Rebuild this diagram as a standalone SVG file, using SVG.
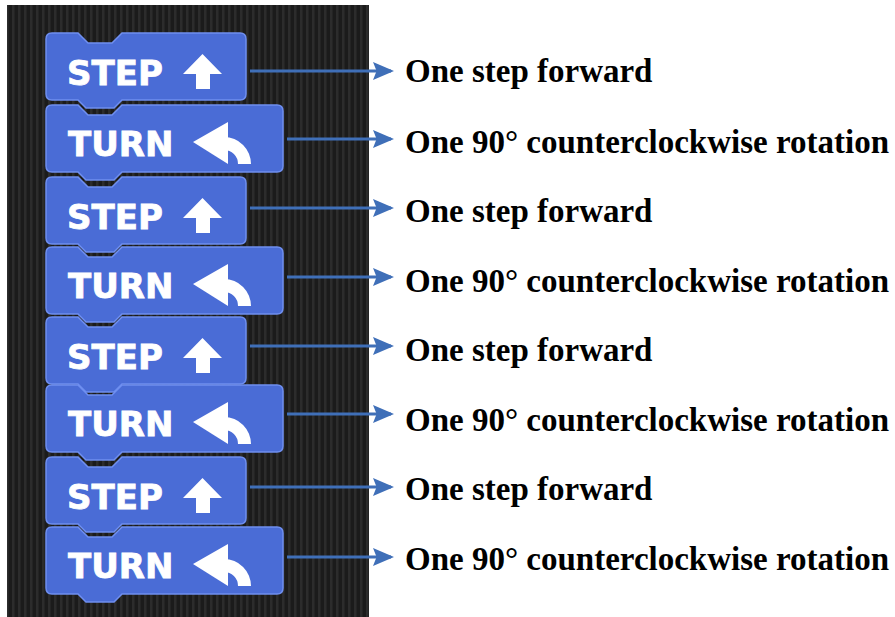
<svg xmlns="http://www.w3.org/2000/svg" width="895" height="617" viewBox="0 0 895 617">
<defs>
<pattern id="stripes" x="0" y="0" width="6" height="10" patternUnits="userSpaceOnUse">
<rect width="6" height="10" fill="#1b1b1b"/>
<rect x="0" width="2.5" height="10" fill="#2c2c2c"/>
</pattern>
<marker id="ah" markerWidth="7" markerHeight="6" refX="6" refY="3" orient="auto" markerUnits="strokeWidth">
<path d="M0,0 L7,3 L0,6 L1.2,3 Z" fill="#3f6fb8"/>
</marker>
<path id="turnShape" d="M6,0 L32,0 L42,10 L66,10 L76,0 L231,0 Q237,0 237,6 L237,61 Q237,67 231,67 L76,67 L68,75 L40,75 L32,67 L6,67 Q0,67 0,61 L0,6 Q0,0 6,0 Z"/>
<path id="stepPath" d="M6,0 L32,0 L42,10 L66,10 L76,0 L194,0 Q200,0 200,6 L200,61 Q200,67 194,67 L76,67 L68,75 L40,75 L32,67 L6,67 Q0,67 0,61 L0,6 Q0,0 6,0 Z"/>
<g id="upIcon">
<path d="M156.5,21 L176,41 L164,41 L164,56 L150,56 L150,41 L137,41 Z" fill="#ffffff"/>
</g>
<g id="turnIcon">
<path d="M147,37 L182,17 L182,59 Z" fill="#ffffff"/>
<path d="M178,32 A27,27 0 0 1 205,59 L192,59 A14,14 0 0 0 178,45 Z" fill="#ffffff"/>
</g>
</defs>
<style>
.blk { fill: #4a6cd6; stroke: #6f8ff0; stroke-width: 1.5; }
.btxt { font-family: "DejaVu Sans", Verdana, sans-serif; font-weight: bold; font-size: 34px; fill: #ffffff; stroke: #ffffff; stroke-width: 0.8; }
.lbl { font-family: "Liberation Serif", "Times New Roman", serif; font-weight: bold; font-size: 33px; fill: #000000; }
.conn { stroke: #3f6fb8; stroke-width: 3; fill: none; marker-end: url(#ah); }
</style>
<rect width="895" height="617" fill="#ffffff"/>
<rect x="7" y="5" width="362" height="612" fill="url(#stripes)"/>

<g id="block1" transform="translate(46,33)"><use href="#stepPath" class="blk"/><text class="btxt" x="21" y="52">STEP</text><use href="#upIcon"/></g>
<g id="block2" transform="translate(46,105)"><use href="#turnShape" class="blk"/><text class="btxt" x="22" y="51">TURN</text><use href="#turnIcon"/></g>
<g id="block3" transform="translate(46,177)"><use href="#stepPath" class="blk"/><text class="btxt" x="21" y="52">STEP</text><use href="#upIcon"/></g>
<g id="block4" transform="translate(46,247)"><use href="#turnShape" class="blk"/><text class="btxt" x="22" y="51">TURN</text><use href="#turnIcon"/></g>
<g id="block5" transform="translate(46,317)"><use href="#stepPath" class="blk"/><text class="btxt" x="21" y="52">STEP</text><use href="#upIcon"/></g>
<g id="block6" transform="translate(46,385)"><use href="#turnShape" class="blk"/><text class="btxt" x="22" y="51">TURN</text><use href="#turnIcon"/></g>
<g id="block7" transform="translate(46,457)"><use href="#stepPath" class="blk"/><text class="btxt" x="21" y="52">STEP</text><use href="#upIcon"/></g>
<g id="block8" transform="translate(46,527)"><use href="#turnShape" class="blk"/><text class="btxt" x="22" y="51">TURN</text><use href="#turnIcon"/></g>

<g id="connectors">
<line class="conn" x1="250" y1="71" x2="391" y2="71"/>
<line class="conn" x1="287" y1="139" x2="391" y2="139"/>
<line class="conn" x1="250" y1="208" x2="391" y2="208"/>
<line class="conn" x1="287" y1="277" x2="391" y2="277"/>
<line class="conn" x1="250" y1="346" x2="391" y2="346"/>
<line class="conn" x1="287" y1="414" x2="391" y2="414"/>
<line class="conn" x1="250" y1="487" x2="391" y2="487"/>
<line class="conn" x1="287" y1="557" x2="391" y2="557"/>
</g>

<g id="labels">
<text class="lbl" x="405" y="82">One step forward</text>
<text class="lbl" x="405" y="153">One 90° counterclockwise rotation</text>
<text class="lbl" x="405" y="222">One step forward</text>
<text class="lbl" x="405" y="292">One 90° counterclockwise rotation</text>
<text class="lbl" x="405" y="361">One step forward</text>
<text class="lbl" x="405" y="431">One 90° counterclockwise rotation</text>
<text class="lbl" x="405" y="500">One step forward</text>
<text class="lbl" x="405" y="570">One 90° counterclockwise rotation</text>
</g>
</svg>
